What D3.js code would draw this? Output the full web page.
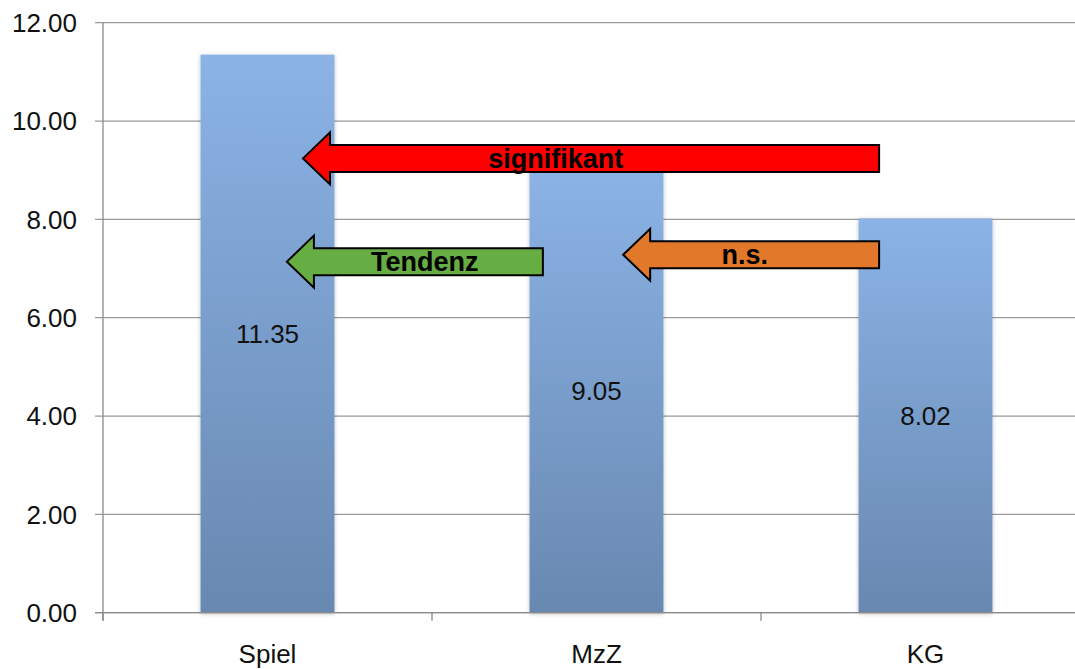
<!DOCTYPE html>
<html>
<head>
<meta charset="utf-8">
<script src="https://cdn.jsdelivr.net/npm/d3@7/dist/d3.min.js"></script>
<style>
  body { margin: 0; background: #fff; }
  text { font-family: "Liberation Sans", Arial, Helvetica, sans-serif; }
</style>
</head>
<body>
<div id="chart"></div>
<script>
var categories = ["Spiel", "MzZ", "KG"]
var values = [11.35, 9.05, 8.02]
var yTicks = [0, 2, 4, 6, 8, 10, 12]

// comparison arrows (x in category index units, y in data units)
var arrowLabels = ["signifikant", "Tendenz", "n.s."]
var arrowColors = ["#ff0000", "#66ad43", "#e2782a"]
var arrowY = [9.24, 7.14, 7.28]
var arrowTip = [0.108, 0.059, 1.081]
var arrowTail = [1.859, 0.837, 1.859]
var arrowTextX = [0.876, 0.478, 1.451]

var W = 1075, H = 669
var m = {top: 22.7, left: 103, bottom: 612.7}
var plotRight = 1090

var svg = d3.select("#chart").append("svg")
	.attr("width", W)
	.attr("height", H)

var defs = svg.append("defs")
var grad = defs.append("linearGradient")
	.attr("id", "barGrad")
	.attr("x1", 0).attr("y1", 0).attr("x2", 0).attr("y2", 1)
grad.append("stop").attr("offset", "0%").attr("stop-color", "#8bb3e6")
grad.append("stop").attr("offset", "100%").attr("stop-color", "#6888b0")

var shadow = defs.append("filter").attr("id", "shadow")
	.attr("x", "-10%").attr("y", "-10%").attr("width", "120%").attr("height", "120%")
shadow.append("feDropShadow")
	.attr("dx", 0).attr("dy", 1)
	.attr("stdDeviation", 2)
	.attr("flood-color", "#000")
	.attr("flood-opacity", 0.25)

var x = d3.scaleBand()
	.domain(categories)
	.range([m.left, plotRight])
	.paddingInner(0.593)
	.paddingOuter(0.2965)

// continuous index scale for the arrows
var xi = d3.scaleLinear()
	.domain([-0.5, categories.length - 0.5])
	.range([m.left, plotRight])

var y = d3.scaleLinear()
	.domain([0, 12])
	.range([m.bottom, m.top])

//gridlines
svg.append("g").selectAll("line")
	.data(yTicks)
	.enter()
	.append("line")
	.attr("x1", m.left - 8)
	.attr("x2", W)
	.attr("y1", function(d){ return y(d) })
	.attr("y2", function(d){ return y(d) })
	.style("stroke", "#9a9a9a")
	.style("stroke-width", 1.3)

//y axis line
svg.append("line")
	.attr("x1", m.left).attr("x2", m.left)
	.attr("y1", y(12)).attr("y2", m.bottom + 8)
	.style("stroke", "#8a8a8a")
	.style("stroke-width", 1.3)

//x ticks
svg.append("g").selectAll("line")
	.data(d3.range(categories.length + 1))
	.enter()
	.append("line")
	.attr("x1", function(d){ return xi(d - 0.5) })
	.attr("x2", function(d){ return xi(d - 0.5) })
	.attr("y1", m.bottom)
	.attr("y2", m.bottom + 8)
	.style("stroke", "#8a8a8a")
	.style("stroke-width", 1.3)

//y labels
svg.append("g").selectAll("text")
	.data(yTicks)
	.enter()
	.append("text")
	.attr("x", 77)
	.attr("y", function(d){ return y(d) })
	.attr("dy", "0.36em")
	.attr("text-anchor", "end")
	.style("font-size", "26px")
	.style("fill", "#111")
	.text(function(d){ return d3.format(".2f")(d) })

//bars
svg.append("g").selectAll("rect")
	.data(values)
	.enter()
	.append("rect")
	.attr("x", function(d, i){ return x(categories[i]) })
	.attr("width", x.bandwidth())
	.attr("y", function(d){ return y(d) })
	.attr("height", function(d){ return m.bottom - y(d) })
	.style("fill", "url(#barGrad)")
	.attr("filter", "url(#shadow)")

//x axis line over bars
svg.append("line")
	.attr("x1", m.left - 8).attr("x2", W)
	.attr("y1", m.bottom).attr("y2", m.bottom)
	.style("stroke", "#8a8a8a")
	.style("stroke-width", 1.3)

//value labels at bar middle
svg.append("g").selectAll("text")
	.data(values)
	.enter()
	.append("text")
	.attr("x", function(d, i){ return x(categories[i]) + x.bandwidth() / 2 })
	.attr("y", function(d){ return y(d / 2) })
	.attr("dy", "0.36em")
	.attr("text-anchor", "middle")
	.style("font-size", "26px")
	.style("fill", "#111")
	.text(function(d){ return d3.format(".2f")(d) })

//category labels
svg.append("g").selectAll("text")
	.data(categories)
	.enter()
	.append("text")
	.attr("x", function(d){ return x(d) + x.bandwidth() / 2 })
	.attr("y", 663)
	.attr("text-anchor", "middle")
	.style("font-size", "26px")
	.style("fill", "#111")
	.text(function(d){ return d })

//arrows
var headLen = 27, headHalf = 26, bodyHalf = 13.5

var arrows = svg.append("g").selectAll("g")
	.data(arrowLabels)
	.enter()
	.append("g")

arrows.append("path")
	.attr("d", function(d, i){
		var tx = xi(arrowTip[i]), cy = y(arrowY[i]), ex = xi(arrowTail[i])
		var hx = tx + headLen
		return "M" + tx + "," + cy +
			"L" + hx + "," + (cy - headHalf) +
			"L" + hx + "," + (cy - bodyHalf) +
			"L" + ex + "," + (cy - bodyHalf) +
			"L" + ex + "," + (cy + bodyHalf) +
			"L" + hx + "," + (cy + bodyHalf) +
			"L" + hx + "," + (cy + headHalf) + "Z"
	})
	.style("fill", function(d, i){ return arrowColors[i] })
	.style("stroke", "#000")
	.style("stroke-width", 2)
	.style("stroke-linejoin", "miter")

arrows.append("text")
	.attr("x", function(d, i){ return xi(arrowTextX[i]) })
	.attr("y", function(d, i){ return y(arrowY[i]) })
	.attr("dy", "0.36em")
	.attr("text-anchor", "middle")
	.style("font-size", "27px")
	.style("font-weight", "bold")
	.style("fill", "#000")
	.text(function(d){ return d })
</script>
</body>
</html>
